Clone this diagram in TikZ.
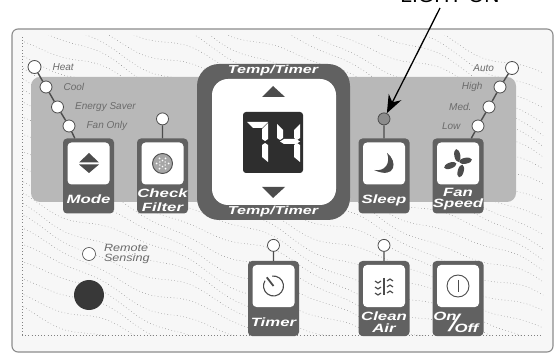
\documentclass[tikz,border=0pt]{standalone}
\usepackage{fontspec}
\setmainfont{Liberation Sans}
\newfontfamily\keyfont[FakeStretch=1.4]{Liberation Sans}
\newfontfamily\senseFont[FakeStretch=1.2]{Liberation Sans}
\usepackage{tikz}
\usetikzlibrary{positioning, arrows.meta}
\definecolor{panelFill}{gray}{0.97}
\definecolor{panelLine}{gray}{0.55}
\definecolor{bandFill}{gray}{0.72}
\definecolor{keyFill}{gray}{0.38}
\definecolor{iconFill}{gray}{0.30}
\definecolor{grainDot}{gray}{0.50}
\definecolor{ledLine}{gray}{0.30}
\definecolor{captionText}{gray}{0.42}
\tikzset{
    key_box/.style={
        draw=none,
        fill=keyFill,
        rounded corners=4pt,
        minimum width=51pt,
        minimum height=75pt,
        inner sep=0pt
    },
    key_face/.style={
        fill=white,
        rounded corners=4pt,
        minimum width=42pt,
        minimum height=42pt,
        inner sep=0pt,
        anchor=north
    },
    key_label/.style={
        text=white,
        inner sep=0pt,
        font=\keyfont\bfseries\itshape\fontsize{12}{12}\selectfont
    },
    led_node/.style={
        circle,
        draw=ledLine,
        line width=0.8pt,
        fill=white,
        minimum size=12pt,
        inner sep=0pt
    },
    led_wire/.style={
        draw=ledLine,
        line width=1.4pt
    },
    led_label/.style={
        text=captionText,
        inner sep=0pt,
        font=\itshape\fontsize{10}{10}\selectfont
    },
    icon_line/.style={
        draw=iconFill,
        line width=1.1pt
    },
    grain_line/.style={
        draw=grainDot,
        line width=0.45pt,
        dash pattern=on 0.6pt off 2.6pt
    }
}

\begin{document}
\begin{tikzpicture}[x=1pt, y=1pt, node distance=74pt]
    \useasboundingbox (0,0) rectangle (559,356);

    % panel and its grain
    \fill[white] (0,0) rectangle (559,356);
    \draw[panelLine, line width=1.1pt, fill=panelFill, rounded corners=6pt] (12,4) rectangle (553,327);
    \begin{scope}
        \clip (22,21) rectangle (543,320);
        \foreach \y in {60,74,...,520}
            \draw[grain_line] plot[domain=12:553, samples=70, smooth]
                (\x, {\y - 0.42*\x + 5*sin(1.9*\x + 3*\y) + 2.5*sin(4.3*\x)});
    \end{scope}
    \draw[grain_line] (22,21) -- (543,21);
    \draw[grain_line] (22,21) -- (22,320);
    \fill[bandFill, rounded corners=9pt] (31,154) rectangle (516,279);

    % temperature frame
    \fill[keyFill, rounded corners=22pt] (197,136) rectangle (350,292);
    \fill[white, rounded corners=16pt] (212,151) rectangle (336,277);
    \node[key_label, font=\keyfont\bfseries\itshape\fontsize{11.5}{12}\selectfont] (tempTop) at (273,285) {Temp/Timer};
    \node[key_label, font=\keyfont\bfseries\itshape\fontsize{11.5}{12}\selectfont] (tempBottom) at (273,144) {Temp/Timer};
    \fill[iconFill] (273,270) -- (285,259) -- (262,259) -- cycle;
    \fill[iconFill] (273,158) -- (285,169) -- (262,169) -- cycle;

    % display
    \node[fill=black!82, rounded corners=3pt, minimum width=60pt, minimum height=61pt, inner sep=0pt] (display) at (273,213.5) {};
    \fill[white] (247,234) -- (268,234) -- (262,228) -- (253,228) -- cycle;
    \fill[white] (268,233) -- (262,227) -- (262,217) -- (265,215) -- (268,217) -- cycle;
    \fill[white] (265,213) -- (268,211) -- (268,194) -- (262,199) -- (262,211) -- cycle;
    \fill[white] (277,232) -- (283,226) -- (283,218) -- (280,216) -- (277,218) -- cycle;
    \fill[white] (280,214.5) -- (284,217) -- (296,217) -- (300,214.5) -- (296,212) -- (284,212) -- cycle;
    \fill[white] (300,232) -- (294,226) -- (294,218) -- (297,216) -- (300,218) -- cycle;
    \fill[white] (297,213) -- (300,211) -- (300,194) -- (294,199) -- (294,211) -- cycle;

    % keys
    \node[key_box] (keyMode) at (88.5,180) {};
    \node[key_box, right of=keyMode] (keyFilter) {};
    \node[key_box] (keySleep) at (384,180) {};
    \node[key_box, right of=keySleep] (keyFan) {};
    \node[key_box] (keyTimer) at (273.5,57.5) {};
    \node[key_box] (keyClean) at (384,57.5) {};
    \node[key_box, right of=keyClean] (keyPower) {};

    \foreach \k in {Mode, Filter, Sleep, Fan, Timer, Clean, Power}
        \node[key_face] (face\k) at ([yshift=-4pt]key\k.north) {};

    \node[key_label] (labelMode) at (88.5,157) {Mode};
    \node[key_label] (labelCheck) at (162.5,163) {Check};
    \node[key_label] (labelFilter) at (162.5,149) {Filter};
    \node[key_label] (labelSleep) at (384,156) {Sleep};
    \node[key_label] (labelFanWord) at (458,164) {Fan};
    \node[key_label] (labelSpeed) at (458,152) {Speed};
    \node[key_label] (labelTimer) at (273.5,34) {Timer};
    \node[key_label] (labelClean) at (384,40) {Clean};
    \node[key_label] (labelAir) at (384,28) {Air};
    \node[key_label] (labelOn) at (445,40) {On};
    \node[key_label, font=\keyfont\itshape\fontsize{24}{24}\selectfont] (labelSlash) at (454,33) {/};
    \node[key_label] (labelOff) at (466.5,28) {Off};

    % key icons
    \fill[iconFill] (89,203) -- (99,193.5) -- (79,193.5) -- cycle;
    \fill[iconFill] (89,183) -- (99,191.5) -- (79,191.5) -- cycle;
    \draw[iconFill, fill=black!35, line width=0.9pt] (faceFilter.center) circle[radius=10];
    \foreach \a in {0,60,...,300} {
        \fill[white] ([shift={(\a:6)}]faceFilter.center) circle[radius=1];
        \fill[white] ([shift={(\a+30:3)}]faceFilter.center) circle[radius=0.8];
    }
    \fill[iconFill] (387,203) .. controls (398,195) and (396,176) .. (374,186) .. controls (385,184) and (391,193) .. (387,203) -- cycle;
    \foreach \a/\b in {95/100, 20/10, -70/-105, 195/200}
        \fill[iconFill] ([shift={(\a:8)}]faceFan.center) ellipse[x radius=6.5, y radius=3, rotate=\b];
    \draw[icon_line] ([shift={(98:10)}]faceTimer.center) arc[start angle=98, end angle=-212, radius=10];
    \draw[iconFill, line width=1.8pt] (faceTimer.center) -- ++(128:11);
    \draw[iconFill, line width=1.4pt] (384,78) -- (384,61);
    \foreach \y in {75,69,63} {
        \draw[iconFill, line width=1.2pt] (375,\y) -- (378,\y-2) -- (381,\y);
        \draw[iconFill, line width=1.2pt] (387,\y) -- (390,\y+2) -- (393,\y);
    }
    \draw[iconFill, line width=0.9pt] (facePower.center) circle[radius=11];
    \draw[iconFill, line width=0.9pt] ([yshift=6pt]facePower.center) -- ([yshift=-6pt]facePower.center);

    % mode and fan lights
    \node[led_node, minimum size=13pt] (ledHeat) at (34.5,289) {};
    \node[led_node] (ledCool) at (46,269) {};
    \node[led_node] (ledEnergy) at (57.5,249) {};
    \node[led_node] (ledFanOnly) at (69,230) {};
    \node[led_node, minimum size=13pt] (ledAuto) at (512,288) {};
    \node[led_node] (ledHigh) at (500,269) {};
    \node[led_node] (ledMed) at (489,249) {};
    \node[led_node] (ledLow) at (478,230) {};
    \node[led_node, above=13pt of keyFilter] (ledFilter) {};
    \node[led_node, above=13pt of keySleep, fill=black!45] (ledSleep) {};
    \node[led_node, above=9pt of keyTimer] (ledTimer) {};
    \node[led_node, above=9pt of keyClean] (ledClean) {};

    \node[led_label, right=11pt of ledHeat] (textHeat) {Heat};
    \node[led_label, right=11pt of ledCool] (textCool) {Cool};
    \node[led_label, right=11pt of ledEnergy] (textEnergy) {Energy Saver};
    \node[led_label, right=11pt of ledFanOnly] (textFanOnly) {Fan Only};
    \node[led_label, left=11pt of ledAuto] (textAuto) {Auto};
    \node[led_label, left=11pt of ledHigh] (textHigh) {High};
    \node[led_label, left=11pt of ledMed] (textMed) {Med.};
    \node[led_label, left=11pt of ledLow] (textLow) {Low};

    \draw[led_wire]
        (ledHeat) -- (ledCool)
        (ledCool) -- (ledEnergy)
        (ledEnergy) -- (ledFanOnly)
        (ledFanOnly) -- ([xshift=12pt]keyMode.north west)
        (ledAuto) -- (ledHigh)
        (ledHigh) -- (ledMed)
        (ledMed) -- (ledLow)
        (ledLow) -- ([xshift=39pt]keyFan.north west)
        (ledFilter) -- (keyFilter)
        (ledSleep) -- (keySleep)
        (ledTimer) -- (keyTimer)
        (ledClean) -- (keyClean);

    % remote sensor
    \node[led_node, minimum size=13pt, line width=0.6pt] (ledRemote) at (89,102) {};
    \node[led_label, right=8pt of ledRemote, align=left, font=\senseFont\itshape\fontsize{10.5}{10.5}\selectfont] (textRemote) {Remote\\Sensing};
    \node[circle, fill=black!78, minimum size=30pt, inner sep=0pt] (sensorEye) at (89,61) {};

    % callout
    \node[anchor=base, inner sep=0pt, font=\fontsize{21}{21}\selectfont] (lightOn) at (450,353) {LIGHT ON};
    \coordinate (calloutStart) at (440,348);
    \draw[-{Stealth[length=18pt, width=14pt]}, line width=1.3pt] (calloutStart) -- (ledSleep);
\end{tikzpicture}
\end{document}
